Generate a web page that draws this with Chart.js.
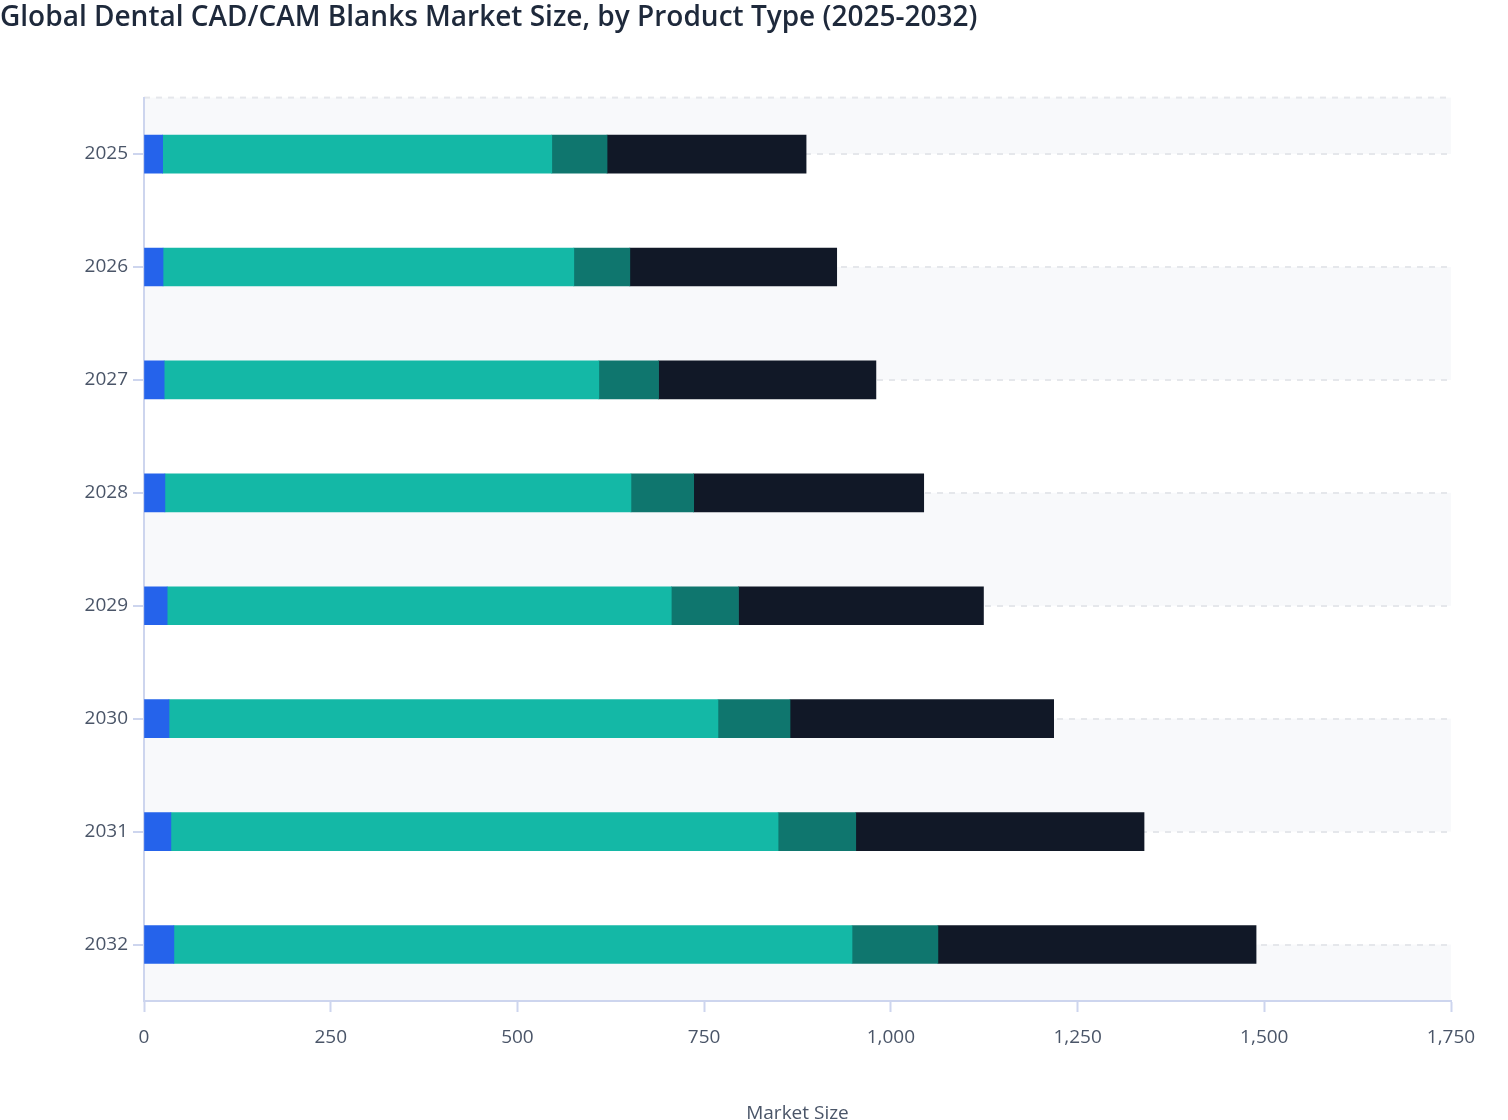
<!DOCTYPE html>
<html lang="en">
<head>
<meta charset="utf-8">
<title>Global Dental CAD/CAM Blanks Market Size</title>
<script src="https://cdn.jsdelivr.net/npm/chart.js@4.4.1/dist/chart.umd.min.js"></script>
<style>
    html, body { margin: 0; padding: 0; background: #ffffff; overflow: hidden; }
    #contenedor { position: relative; width: 1508px; height: 1150px; }
</style>
</head>
<body>
<div id="contenedor">
    <canvas id="graficoMercado"></canvas>
</div>
<script>
// Data
const years = ['2025', '2026', '2027', '2028', '2029', '2030', '2031', '2032'];
const seriesNames = ['Metal Blanks', 'Zirconia Blanks', 'PMMA Blanks', 'Glass Ceramic Blanks'];
const metalValues = [25, 25.5, 27, 28, 31, 33.5, 36, 40];
const zirconiaValues = [521, 550, 582, 624, 675, 735, 813, 908];
const pmmaValues = [74, 75, 80, 84, 90, 96.5, 104, 115];
const ceramicValues = [266.5, 277, 291, 308, 328, 353, 386, 426];
const xTicks = { min: 0, max: 1750, step: 250 };

const colores = ['#2563eb', '#14b8a6', '#0f766e', '#111827'];
const tickColor = '#4a5568';
const axisColor = '#cdd5ee';
const fuente = "'Open Sans', 'Noto Sans', sans-serif";

// Alternating light bands between the category grid lines
const bandasPlugin = {
    id: 'bandas',
    beforeDraw(chart) {
        const { ctx, chartArea, scales } = chart;
        const y = scales.y;
        const cortes = [chartArea.top];
        years.forEach((_, i) => cortes.push(y.getPixelForValue(i)));
        cortes.push(chartArea.bottom);
        ctx.save();
        for (let i = 0; i < cortes.length - 1; i++) {
            if (i % 2 === 0) {
                ctx.fillStyle = '#f8f9fb';
                ctx.fillRect(chartArea.left, cortes[i], chartArea.right - chartArea.left, cortes[i + 1] - cortes[i]);
            }
        }
        // dashed line along the top of the plot
        ctx.strokeStyle = '#e5e7eb';
        ctx.lineWidth = 2;
        ctx.setLineDash([6, 6]);
        ctx.beginPath();
        ctx.moveTo(chartArea.left, chartArea.top);
        ctx.lineTo(chartArea.right, chartArea.top);
        ctx.stroke();
        ctx.restore();
    }
};

document.addEventListener('DOMContentLoaded', function() {
    const ctx = document.getElementById('graficoMercado').getContext('2d');
    const valores = [metalValues, zirconiaValues, pmmaValues, ceramicValues];

    new Chart(ctx, {
        type: 'bar',
        data: {
            labels: years,
            datasets: seriesNames.map((nombre, i) => ({
                label: nombre,
                data: valores[i],
                backgroundColor: colores[i],
                borderWidth: 0,
                barThickness: 38
            }))
        },
        options: {
            indexAxis: 'y',
            responsive: true,
            maintainAspectRatio: false,
            animation: false,
            layout: { padding: { left: 0, right: 57, top: 0, bottom: 0 } },
            plugins: {
                legend: { display: false },
                tooltip: { enabled: false },
                title: {
                    display: true,
                    text: 'Global Dental CAD/CAM Blanks Market Size, by Product Type (2025-2032)',
                    align: 'start',
                    color: '#1e293b',
                    font: { family: fuente, size: 28, weight: '600' },
                    padding: { top: 1, bottom: 63 }
                }
            },
            scales: {
                x: {
                    stacked: true,
                    min: xTicks.min,
                    max: xTicks.max,
                    ticks: {
                        stepSize: xTicks.step,
                        color: tickColor,
                        font: { family: fuente, size: 19 },
                        padding: 14
                    },
                    grid: {
                        drawOnChartArea: false,
                        tickLength: 11,
                        tickColor: axisColor,
                        tickWidth: 2
                    },
                    border: { color: axisColor, width: 2 },
                    title: {
                        display: true,
                        text: 'Market Size',
                        color: tickColor,
                        font: { family: fuente, size: 19 },
                        padding: { top: 0, bottom: 25 }
                    },
                    afterFit(scale) { scale.height = 149; }
                },
                y: {
                    stacked: true,
                    ticks: {
                        color: tickColor,
                        font: { family: fuente, size: 19 },
                        padding: 5
                    },
                    grid: {
                        offset: false,
                        color: '#e5e7eb',
                        lineWidth: 2,
                        tickLength: 11,
                        tickColor: axisColor,
                        tickWidth: 2,
                        tickBorderDash: []
                    },
                    // in v4 the border dash is what dashes the grid lines
                    border: { color: axisColor, width: 2, dash: [6, 6] },
                    afterFit(scale) { scale.width = 144; }
                }
            }
        },
        plugins: [bandasPlugin]
    });
});
</script>
</body>
</html>
